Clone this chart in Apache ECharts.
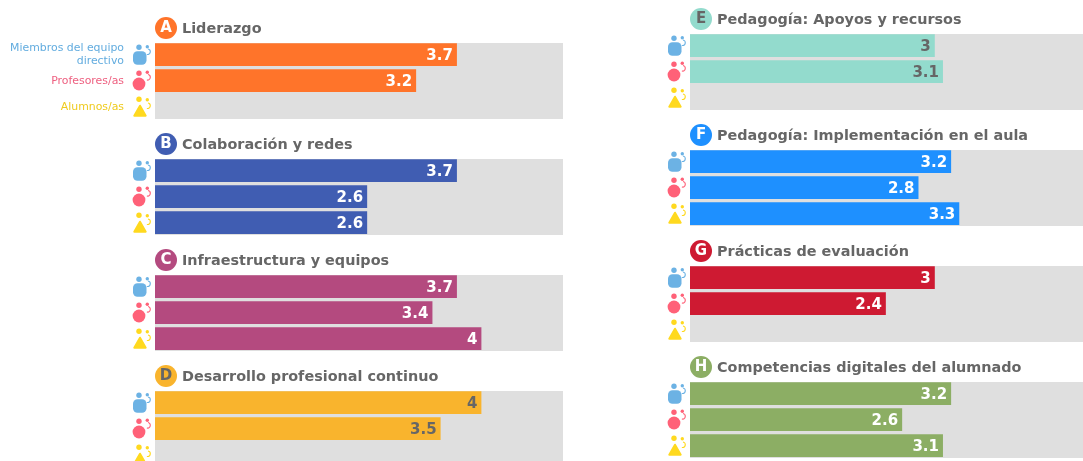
<!DOCTYPE html>
<html><head><meta charset="utf-8">
<style>html,body{margin:0;padding:0;background:#fff}#c{width:1083px;height:461px}</style>
<script src="https://cdn.jsdelivr.net/npm/echarts@6/dist/echarts.min.js"></script></head>
<body><div id="c"></div>
<script>
const roles = ['Miembros del equipo\ndirectivo', 'Profesores/as', 'Alumnos/as'];
const roleColors = ['#6CB2E4', '#FF6178', '#FFD91F'];
const roleTextColors = ['#62ACDF', '#EE6080', '#EFCB1E'];
const letters = ['A','B','C','D','E','F','G','H'];
const names = ['Liderazgo','Colaboración y redes','Infraestructura y equipos','Desarrollo profesional continuo','Pedagogía: Apoyos y recursos','Pedagogía: Implementación en el aula','Prácticas de evaluación','Competencias digitales del alumnado'];
const valuesA = [3.7, 3.2, null];
const valuesB = [3.7, 2.6, 2.6];
const valuesC = [3.7, 3.4, 4];
const valuesD = [4, 3.5, null];
const valuesE = [3, 3.1, null];
const valuesF = [3.2, 2.8, 3.3];
const valuesG = [3, 2.4, null];
const valuesH = [3.2, 2.6, 3.1];
const allValues = [valuesA,valuesB,valuesC,valuesD,valuesE,valuesF,valuesG,valuesH];
const colors = ['#FF742A','#405DB2','#B44A7F','#F9B42D','#93DBCD','#1E90FF','#CE1A32','#8CAE64'];
const inkColors = ['#fff','#fff','#fff','#666','#666','#fff','#fff','#fff'];
const gridLeft = [155,155,155,155,690,690,690,690];
const gridTop = [43,159,275,391,34,150,266,382];

function icon(params, api){
  const i = params.dataIndex;
  const p = api.coord([0, i]);
  const cx = p[0]-14, cy = p[1], col = roleColors[i];
  let body;
  if(i===0) body={type:'rect',shape:{x:cx-8,y:cy-3.4,width:13.5,height:13.5,r:4.5},style:{fill:col}};
  else if(i===1) body={type:'circle',shape:{cx:cx-2,cy:cy+3.3,r:6.4},style:{fill:col}};
  else body={type:'polygon',shape:{points:[[cx-1,cy-1],[cx+4.7,cy+9],[cx-6.7,cy+9]]},style:{fill:col,stroke:col,lineWidth:2,lineJoin:'round'}};
  const smallY = [-8,-8.4,-7][i], arcY = [-3,-3.4,-1][i];
  return {type:'group',children:[
    body,
    {type:'circle',shape:{cx:cx-2,cy:cy-7.4,r:2.7},style:{fill:col}},
    {type:'circle',shape:{cx:cx+6.3,cy:cy+smallY,r:1.7},style:{fill:col}},
    {type:'arc',shape:{cx:cx+6.5,cy:cy+arcY,r:2.8,startAngle:-1.4,endAngle:1.8},style:{fill:null,stroke:col,lineWidth:1.1}}
  ]};
}

const option = {animation:false,grid:[],xAxis:[],yAxis:[],series:[],title:[]};
letters.forEach((L,k)=>{
  // grid k carries the bars; the grey panel behind them is a separate, slightly shorter grid
  option.grid.push({left:gridLeft[k],top:gridTop[k]-1.3,width:408,height:78,show:false,containLabel:false,outerBoundsMode:'none',z:2});
  option.xAxis.push({gridIndex:k,type:'value',min:0,max:5,show:false});
  option.yAxis.push({gridIndex:k,type:'category',inverse:true,data:roles,axisLine:{show:false},axisTick:{show:false},
    axisLabel:{show:k===0,margin:31,fontFamily:'DejaVu Sans',fontSize:10.9,lineHeight:13,align:'right',
      color:(v,i)=>roleTextColors[i]}});
  option.series.push({type:'bar',xAxisIndex:k,yAxisIndex:k,data:allValues[k],barWidth:22.7,
    itemStyle:{color:colors[k]},
    label:{show:true,position:'insideRight',distance:4,offset:[0,1],color:inkColors[k],fontFamily:'DejaVu Sans',fontWeight:'bold',fontSize:15,
      formatter:p=>String(p.value)}});
  option.series.push({type:'custom',xAxisIndex:k,yAxisIndex:k,clip:false,silent:true,data:allValues[k].map((v,i)=>[0,i]),renderItem:icon,z:5});
  option.title.push({left:gridLeft[k],top:gridTop[k]-27,padding:0,
    text:`{c|${L}}{t| ${names[k]}}`,
    textStyle:{rich:{
      c:{width:22,height:22,lineHeight:22,borderRadius:11,align:'center',backgroundColor:colors[k],color:inkColors[k],fontFamily:'DejaVu Sans',fontWeight:'bold',fontSize:15},
      t:{color:'#666',fontFamily:'DejaVu Sans',fontWeight:'bold',fontSize:14.4,lineHeight:24,padding:[2,0,0,0]}
    }}});
});
letters.forEach((L,k)=>{
  option.grid.push({left:gridLeft[k],top:gridTop[k],width:408,height:76,show:true,borderWidth:0,backgroundColor:'#DFDFDF',outerBoundsMode:'none',z:0});
});
echarts.init(document.getElementById('c'),null,{renderer:'canvas'}).setOption(option);
</script></body></html>
